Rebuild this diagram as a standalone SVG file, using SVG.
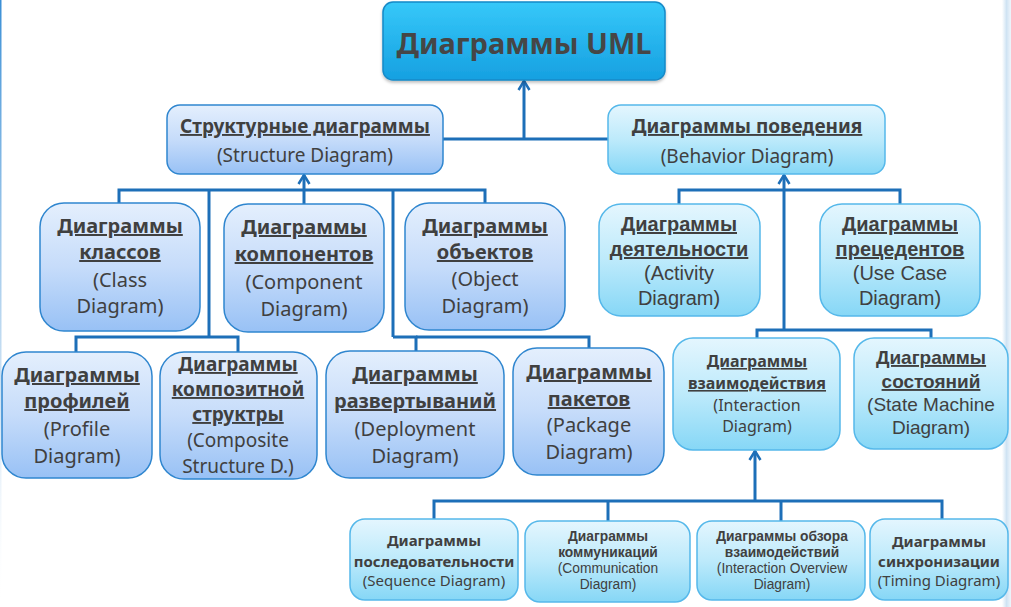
<svg xmlns="http://www.w3.org/2000/svg" width="1011" height="607" viewBox="0 0 1011 607">
  <defs>
    <linearGradient id="gTitle" x1="0" y1="0" x2="0" y2="1">
      <stop offset="0" stop-color="#36c8f9"/>
      <stop offset="1" stop-color="#16a0e1"/>
    </linearGradient>
    <linearGradient id="gStruct" x1="0" y1="0" x2="0" y2="1">
      <stop offset="0" stop-color="#e4effd"/>
      <stop offset="0.5" stop-color="#c6dcfa"/>
      <stop offset="1" stop-color="#98c1f5"/>
    </linearGradient>
    <linearGradient id="gBeh" x1="0" y1="0" x2="0" y2="1">
      <stop offset="0" stop-color="#e4f6fe"/>
      <stop offset="0.5" stop-color="#bdeafb"/>
      <stop offset="1" stop-color="#86d7f6"/>
    </linearGradient>
    <linearGradient id="gRight" x1="0" y1="0" x2="1" y2="0">
      <stop offset="0" stop-color="#ffffff"/>
      <stop offset="0.5" stop-color="#cfe3f3"/>
      <stop offset="1" stop-color="#eef5fb"/>
    </linearGradient>
    <linearGradient id="gLeft" x1="0" y1="0" x2="0" y2="1">
      <stop offset="0" stop-color="#3a8fd6"/>
      <stop offset="0.7" stop-color="#bcd8f0" stop-opacity="0.6"/>
      <stop offset="1" stop-color="#ffffff" stop-opacity="0"/>
    </linearGradient>
    <filter id="shadow" x="-10%" y="-10%" width="120%" height="130%">
      <feDropShadow dx="0" dy="2" stdDeviation="1.5" flood-color="#000" flood-opacity="0.25"/>
    </filter>
    <marker id="arr" viewBox="0 0 14 14" refX="12" refY="7" markerWidth="14" markerHeight="14" markerUnits="userSpaceOnUse" orient="auto">
      <path d="M3,1.5 L12,7 L3,12.5" fill="none" stroke="#1d6fb8" stroke-width="2.5"/>
    </marker>
    <style>
      .bs { fill: url(#gStruct); stroke: #2f86cf; stroke-width: 1.5; }
      .bb { fill: url(#gBeh); stroke: #55b8ea; stroke-width: 1.5; }
      .t { font-family: "Noto Sans", "Open Sans", sans-serif; font-weight: bold; fill: #404040; text-anchor: middle; text-decoration: underline; }
      .tn { font-family: "Noto Sans", "Open Sans", sans-serif; font-weight: bold; fill: #404040; text-anchor: middle; }
      .s { font-family: "Noto Sans", "Open Sans", sans-serif; fill: #404040; text-anchor: middle; }
      .tu { font-family: "Liberation Sans", Arial, sans-serif; font-weight: bold; fill: #404040; text-anchor: middle; text-decoration: underline; }
      .su { font-family: "Liberation Sans", Arial, sans-serif; fill: #404040; text-anchor: middle; }
      .tl { font-family: "Liberation Sans", Arial, sans-serif; font-weight: bold; fill: #404040; text-anchor: middle; font-size: 13.8px; }
      .sl { font-family: "Liberation Sans", Arial, sans-serif; fill: #404040; text-anchor: middle; font-size: 13.8px; }
      .f20 { font-size: 20px; }
      .f19 { font-size: 19px; }
      .f16 { font-size: 16px; }
      .f15 { font-size: 15px; }
      .c { fill: none; stroke: #1d6fb8; stroke-width: 3; }
    </style>
  </defs>

  <rect x="0" y="0" width="1011" height="607" fill="#ffffff"/>
  <rect x="1002" y="0" width="9" height="607" fill="url(#gRight)"/>
  <rect x="0" y="0" width="1.5" height="607" fill="url(#gLeft)"/>

  <g id="connectors">
    <path class="c" d="M443,139 H608"/>
    <path class="c" d="M524,139 V81" marker-end="url(#arr)"/>
    <path class="c" d="M304,204 V175" marker-end="url(#arr)"/>
    <path class="c" d="M119,203 V190 H485 V203"/>
    <path class="c" d="M209,190 V337"/>
    <path class="c" d="M393,190 V337"/>
    <path class="c" d="M76,352 V337 H238 V352"/>
    <path class="c" d="M416,351 V337 H393"/>
    <path class="c" d="M416,337 H589 V348"/>
    <path class="c" d="M784,330 V175" marker-end="url(#arr)"/>
    <path class="c" d="M679,204 V190 H900 V204"/>
    <path class="c" d="M757,338 V330 H931 V338"/>
    <path class="c" d="M755,501 V451" marker-end="url(#arr)"/>
    <path class="c" d="M434,519 V501 H942 V519"/>
    <path class="c" d="M608,501 V521"/>
    <path class="c" d="M781,501 V521"/>
  </g>

  <g id="uml">
    <rect x="383" y="2" width="282" height="78" rx="10" fill="url(#gTitle)" stroke="#1689c7" stroke-width="1.5" filter="url(#shadow)"/>
    <text x="524" y="54" font-family="Noto Sans, Open Sans, sans-serif" font-weight="bold" font-size="29" fill="#464646" text-anchor="middle">Диаграммы UML</text>
  </g>

  <g id="structure">
    <rect class="bs" x="167" y="105" width="276" height="69" rx="13"/>
    <text class="t" x="305" y="133" font-size="19">Структурные диаграммы</text>
    <text class="s" x="305" y="162" font-size="19">(Structure Diagram)</text>
  </g>

  <g id="behavior">
    <rect class="bb" x="608" y="105" width="277" height="69" rx="13"/>
    <text class="t" x="747" y="133" font-size="19">Диаграммы поведения</text>
    <text class="s" x="747" y="163" font-size="19">(Behavior Diagram)</text>
  </g>

  <g id="class">
    <rect class="bs" x="40" y="203" width="160" height="128" rx="24"/>
    <text class="t f20" x="120" y="233">Диаграммы</text>
    <text class="t f20" x="120" y="259">классов</text>
    <text class="s f20" x="120" y="287">(Class</text>
    <text class="s f20" x="120" y="313">Diagram)</text>
  </g>

  <g id="component">
    <rect class="bs" x="224" y="204" width="160" height="128" rx="24"/>
    <text class="t f20" x="304" y="234">Диаграммы</text>
    <text class="t f20" x="304" y="261">компонентов</text>
    <text class="s f20" x="304" y="289">(Component</text>
    <text class="s f20" x="304" y="316">Diagram)</text>
  </g>

  <g id="object">
    <rect class="bs" x="405" y="203" width="160" height="127" rx="24"/>
    <text class="t f20" x="485" y="233">Диаграммы</text>
    <text class="t f20" x="485" y="259">объектов</text>
    <text class="s f20" x="485" y="286">(Object</text>
    <text class="s f20" x="485" y="313">Diagram)</text>
  </g>

  <g id="activity">
    <rect class="bb" x="599" y="204" width="161" height="112" rx="22"/>
    <text class="tu f20" x="679" y="231">Диаграммы</text>
    <text class="tu f20" x="679" y="256">деятельности</text>
    <text class="su f20" x="679" y="280">(Activity</text>
    <text class="su f20" x="679" y="305">Diagram)</text>
  </g>

  <g id="usecase">
    <rect class="bb" x="820" y="204" width="160" height="112" rx="22"/>
    <text class="tu f20" x="900" y="231">Диаграммы</text>
    <text class="tu f20" x="900" y="256">прецедентов</text>
    <text class="su f20" x="900" y="280">(Use Case</text>
    <text class="su f20" x="900" y="305">Diagram)</text>
  </g>

  <g id="profile">
    <rect class="bs" x="2" y="352" width="150" height="126" rx="24"/>
    <text class="t f20" x="77" y="382">Диаграммы</text>
    <text class="t f20" x="77" y="408">профилей</text>
    <text class="s f20" x="77" y="436">(Profile</text>
    <text class="s f20" x="77" y="463">Diagram)</text>
  </g>

  <g id="composite">
    <rect class="bs" x="160" y="352" width="157" height="127" rx="24"/>
    <text class="t f19" x="238" y="371">Диаграммы</text>
    <text class="t f19" x="238" y="396">композитной</text>
    <text class="t f19" x="238" y="421">структры</text>
    <text class="s f19" x="238" y="447">(Composite</text>
    <text class="s f19" x="238" y="473">Structure D.)</text>
  </g>

  <g id="deployment">
    <rect class="bs" x="326" y="351" width="178" height="127" rx="24"/>
    <text class="t f20" x="415" y="381">Диаграммы</text>
    <text class="t f20" x="415" y="408">развертываний</text>
    <text class="s f20" x="415" y="436">(Deployment</text>
    <text class="s f20" x="415" y="463">Diagram)</text>
  </g>

  <g id="package">
    <rect class="bs" x="513" y="348" width="151" height="127" rx="24"/>
    <text class="t f20" x="589" y="379">Диаграммы</text>
    <text class="t f20" x="589" y="406">пакетов</text>
    <text class="s f20" x="589" y="432">(Package</text>
    <text class="s f20" x="589" y="459">Diagram)</text>
  </g>

  <g id="interaction">
    <rect class="bb" x="673" y="338" width="167" height="112" rx="20"/>
    <text class="t f16" x="757" y="367">Диаграммы</text>
    <text class="t f16" x="757" y="389">взаимодействия</text>
    <text class="s f16" x="757" y="411">(Interaction</text>
    <text class="s f16" x="757" y="432">Diagram)</text>
  </g>

  <g id="state">
    <rect class="bb" x="854" y="338" width="154" height="111" rx="20"/>
    <text class="tu f19" x="931" y="364">Диаграммы</text>
    <text class="tu f19" x="931" y="388">состояний</text>
    <text class="su f19" x="931" y="411">(State Machine</text>
    <text class="su f19" x="931" y="434">Diagram)</text>
  </g>

  <g id="sequence">
    <rect class="bb" x="350" y="519" width="168" height="81" rx="15"/>
    <text class="tn f15" x="434" y="546">Диаграммы</text>
    <text class="tn f15" x="434" y="567">последовательности</text>
    <text class="s f15" x="434" y="586">(Sequence Diagram)</text>
  </g>

  <g id="communication">
    <rect class="bb" x="525" y="521" width="165" height="81" rx="15"/>
    <text class="tl" x="608" y="541">Диаграммы</text>
    <text class="tl" x="608" y="557">коммуникаций</text>
    <text class="sl" x="608" y="573">(Communication</text>
    <text class="sl" x="608" y="589">Diagram)</text>
  </g>

  <g id="overview">
    <rect class="bb" x="697" y="521" width="168" height="79" rx="15"/>
    <text class="tl" x="782" y="541">Диаграммы обзора</text>
    <text class="tl" x="782" y="557">взаимодействий</text>
    <text class="sl" x="782" y="573">(Interaction Overview</text>
    <text class="sl" x="782" y="589">Diagram)</text>
  </g>

  <g id="timing">
    <rect class="bb" x="870" y="519" width="138" height="81" rx="15"/>
    <text class="tn f15" x="939" y="547">Диаграммы</text>
    <text class="tn f15" x="939" y="567">синхронизации</text>
    <text class="s f15" x="939" y="586">(Timing Diagram)</text>
  </g>
</svg>
